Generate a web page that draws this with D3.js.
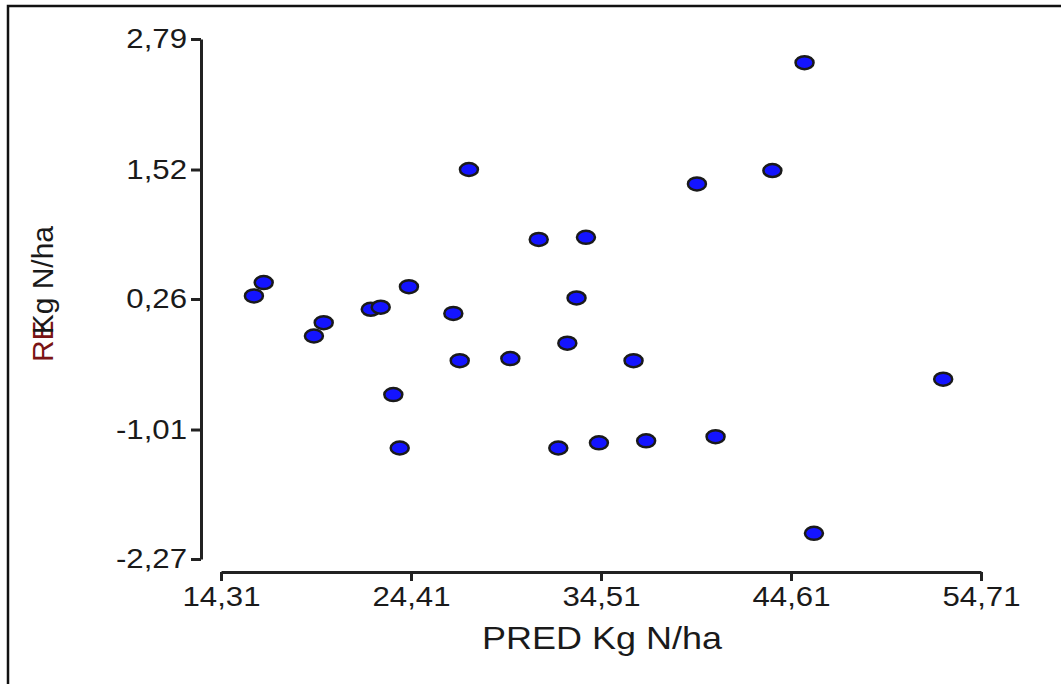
<!DOCTYPE html>
<html>
<head>
    <meta charset="utf-8">
    <title>RE vs PRED</title>
    <script src="https://cdn.jsdelivr.net/npm/d3@7/dist/d3.min.js"></script>
    <style>
        body { margin: 0; background: #fff; }
        text { font-family: "Liberation Sans", Arial, sans-serif; fill: #1a1a1a; }
    </style>
</head>

<body>
    <script>
        // predicted values (x) and residuals (y)
        var pred = [16.06, 16.58, 19.25, 19.77, 22.27, 22.80, 24.30, 23.47, 23.81,
                    26.66, 27.00, 27.49, 29.69, 31.20, 32.72, 32.24, 33.21, 33.71,
                    34.40, 36.24, 36.91, 39.61, 40.60, 43.62, 45.33, 45.83, 52.70];
        var resid = [0.29, 0.42, -0.10, 0.03, 0.16, 0.18, 0.38, -0.67, -1.19,
                     0.12, -0.34, 1.52, -0.32, 0.84, -0.17, -1.19, 0.27, 0.86,
                     -1.14, -0.34, -1.12, 1.38, -1.08, 1.51, 2.56, -2.02, -0.52];

        var xTicks = [14.31, 24.41, 34.51, 44.61, 54.71];
        var yTicks = [-2.27, -1.01, 0.26, 1.52, 2.79];

        var width = 1061;
        var height = 684;
        var stretch = 1.2;   // text in the original is a bit wide

        var fmt = function(d) { return d.toFixed(2).replace(".", ","); };

        var xScale = d3.scaleLinear()
                    .domain([14.31, 54.71])
                    .range([221, 981]);

        var yScale = d3.scaleLinear()
                    .domain([-2.27, 2.79])
                    .range([559, 39]);

        var svg = d3.select("body").append("svg")
            .attr("width", width)
            .attr("height", height);

        // frame (only top and left edge show)
        svg.append("path")
            .attr("d", "M8,684 L8,6 L1061,6")
            .attr("fill", "none")
            .attr("stroke", "#111")
            .attr("stroke-width", 2.5);

        var xAxis = d3.axisBottom(xScale)
            .tickValues(xTicks)
            .tickFormat(fmt)
            .tickSize(9)
            .tickSizeOuter(0)
            .tickPadding(6);

        var yAxis = d3.axisLeft(yScale)
            .tickValues(yTicks)
            .tickFormat(fmt)
            .tickSize(10)
            .tickSizeOuter(0)
            .tickPadding(4);

        var gx = svg.append("g")
            .attr("transform", "translate(0,572)")
            .call(xAxis);

        var gy = svg.append("g")
            .attr("transform", "translate(201,0)")
            .call(yAxis);

        [gx, gy].forEach(function(g) {
            g.select(".domain").attr("stroke", "#222").attr("stroke-width", 3);
            g.selectAll(".tick line").attr("stroke", "#222").attr("stroke-width", 3);
            g.selectAll(".tick text")
                .attr("font-size", 27)
                .attr("font-family", "Liberation Sans, Arial, sans-serif")
                .attr("fill", "#1a1a1a");
        });

        gx.selectAll(".tick text").attr("transform", "scale(" + (stretch * 26 / 27) + ",1)");
        gy.selectAll(".tick text")
            .attr("x", -14 / (stretch * 26 / 27))
            .attr("transform", "scale(" + (stretch * 26 / 27) + ",1)");

        // axis titles
        svg.append("text")
            .attr("transform", "translate(602,649) scale(" + (stretch * 30 / 31) + ",1)")
            .attr("text-anchor", "middle")
            .attr("font-size", 31)
            .text("PRED Kg N/ha");

        var yl = svg.append("text")
            .attr("transform", "translate(53,294) rotate(-90)")
            .attr("text-anchor", "middle")
            .attr("font-size", 30);
        yl.append("tspan").attr("fill", "#7a1414").text("RE");
        yl.append("tspan").attr("dx", -14).text("Kg N/ha");

        // points
        var points = pred.map(function(d, i) { return {x: d, y: resid[i]}; });

        svg.selectAll("ellipse")
            .data(points)
            .enter()
            .append("ellipse")
            .attr("cx", function(d) { return xScale(d.x); })
            .attr("cy", function(d) { return yScale(d.y); })
            .attr("rx", 9)
            .attr("ry", 6.5)
            .attr("fill", "#1414ff")
            .attr("stroke", "#1a1a1a")
            .attr("stroke-width", 2.5);
    </script>
</body>
</html>
